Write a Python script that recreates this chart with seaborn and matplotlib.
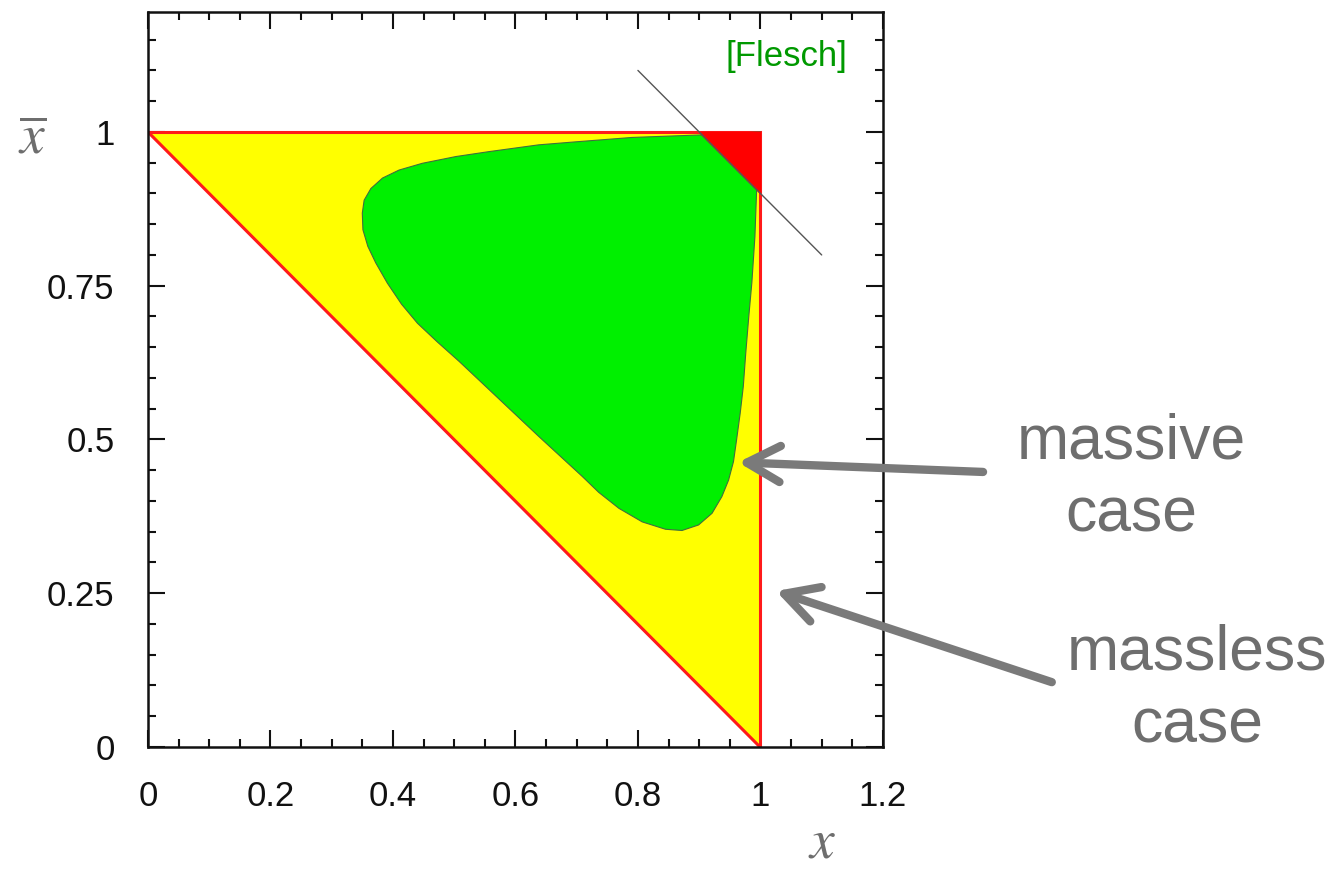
"""
Dalitz-type phase space plot: massless vs massive region, with Flesch cut.
Saves out.png.
"""
import matplotlib.pyplot as plt
import matplotlib.ticker as mticker
import pandas as pd
import seaborn as sns

# massless phase space triangle (x, xbar)
MASSLESS_X = [0.0, 1.0, 1.0]
MASSLESS_Y = [1.0, 1.0, 0.0]

# massive phase space boundary
MASSIVE_X = [0.899, 0.790, 0.700, 0.638, 0.557, 0.503, 0.448, 0.410, 0.383,
             0.364, 0.353, 0.350, 0.351, 0.359, 0.372, 0.391, 0.414, 0.440,
             0.472, 0.508, 0.573, 0.638, 0.709, 0.736, 0.769, 0.807, 0.845,
             0.872, 0.899, 0.921, 0.937, 0.948, 0.956, 0.961, 0.967, 0.972,
             0.976, 0.981, 0.986, 0.991, 0.994, 0.998]
MASSIVE_Y = [0.995, 0.991, 0.984, 0.979, 0.968, 0.960, 0.949, 0.938, 0.925,
             0.908, 0.889, 0.868, 0.841, 0.814, 0.787, 0.754, 0.720, 0.689,
             0.659, 0.627, 0.566, 0.505, 0.440, 0.414, 0.388, 0.366, 0.354,
             0.352, 0.361, 0.380, 0.407, 0.434, 0.464, 0.499, 0.543, 0.586,
             0.640, 0.700, 0.755, 0.830, 0.911, 0.995]

# corner removed by the cut (red) and the cut line itself
CUT_X = [0.9, 1.0, 1.0]
CUT_Y = [1.0, 1.0, 0.9]
CUT_LINE_X = [0.8, 1.1]
CUT_LINE_Y = [1.1, 0.8]

X_TICKS = [0, 0.2, 0.4, 0.6, 0.8, 1.0, 1.2]
X_TICK_LABELS = ["0", "0.2", "0.4", "0.6", "0.8", "1", "1.2"]
Y_TICKS = [0, 0.25, 0.5, 0.75, 1.0]
Y_TICK_LABELS = ["0", "0.25", "0.5", "0.75", "1"]

GREY = "#6e6e6e"

sns.set_style("ticks")
plt.rcParams["font.family"] = ["Liberation Sans", "DejaVu Sans"]
plt.rcParams["mathtext.fontset"] = "stix"

fig = plt.figure(figsize=(13.4, 8.69), dpi=100)
ax = fig.add_axes([0.1104, 0.1404, 0.5485, 0.8458])

ax.fill(MASSLESS_X, MASSLESS_Y, facecolor="#ffff00", edgecolor="#ff1a1a",
        linewidth=2.2, zorder=1)
ax.fill(MASSIVE_X + [1.0], MASSIVE_Y + [1.0], facecolor="#00f000",
        edgecolor="#3f6f3f", linewidth=0.8, zorder=2)
ax.fill(CUT_X, CUT_Y, facecolor="#ff0000", edgecolor="#ff0000",
        linewidth=1.0, zorder=3)

cut = pd.DataFrame({"x": CUT_LINE_X, "y": CUT_LINE_Y})
sns.lineplot(data=cut, x="x", y="y", sort=False, color="#555555",
             linewidth=1.0, ax=ax, zorder=4)

ax.set_xlim(0, 1.2)
ax.set_ylim(0, 1.195)
ax.set_xticks(X_TICKS)
ax.set_xticklabels(X_TICK_LABELS)
ax.set_yticks(Y_TICKS)
ax.set_yticklabels(Y_TICK_LABELS)
ax.xaxis.set_minor_locator(mticker.MultipleLocator(0.05))
ax.yaxis.set_minor_locator(mticker.MultipleLocator(0.05))
ax.tick_params(which="both", direction="in", top=True, right=True,
               width=1.5, colors="#111111", labelsize=25, labelcolor="#111111")
ax.tick_params(which="major", length=12, pad=24)
ax.tick_params(which="minor", length=6)
for sp in ax.spines.values():
    sp.set_linewidth(1.8)
    sp.set_color("#111111")
ax.set_xlabel("")
ax.set_ylabel("")

# axis labels in italic serif, grey
fig.text(822 / 1340, 1 - 844 / 869, r"$x$", fontsize=40, color=GREY,
         ha="center", va="center")
fig.text(32 / 1340, 1 - 140 / 869, r"$\overline{x}$", fontsize=40, color=GREY,
         ha="center", va="center")

ax.text(1.043, 1.122, "[Flesch]", color="#009900", fontsize=25,
        ha="center", va="center")

# annotations for the two boundaries
ax.annotate("", xy=(0.959, 0.463), xytext=(1.368, 0.447),
            annotation_clip=False,
            arrowprops=dict(arrowstyle="->, head_length=1.2, head_width=0.65",
                            color="#7a7a7a", linewidth=6, mutation_scale=20))
ax.annotate("", xy=(1.021, 0.255), xytext=(1.480, 0.104),
            annotation_clip=False,
            arrowprops=dict(arrowstyle="->, head_length=1.2, head_width=0.65",
                            color="#7a7a7a", linewidth=6, mutation_scale=20))
ax.text(1.606, 0.437, "massive\ncase", color=GREY, fontsize=45,
        ha="center", va="center", linespacing=1.3, clip_on=False)
ax.text(1.713, 0.093, "massless\ncase", color=GREY, fontsize=45,
        ha="center", va="center", linespacing=1.3, clip_on=False)

fig.savefig("out.png", dpi=100)
plt.close(fig)
